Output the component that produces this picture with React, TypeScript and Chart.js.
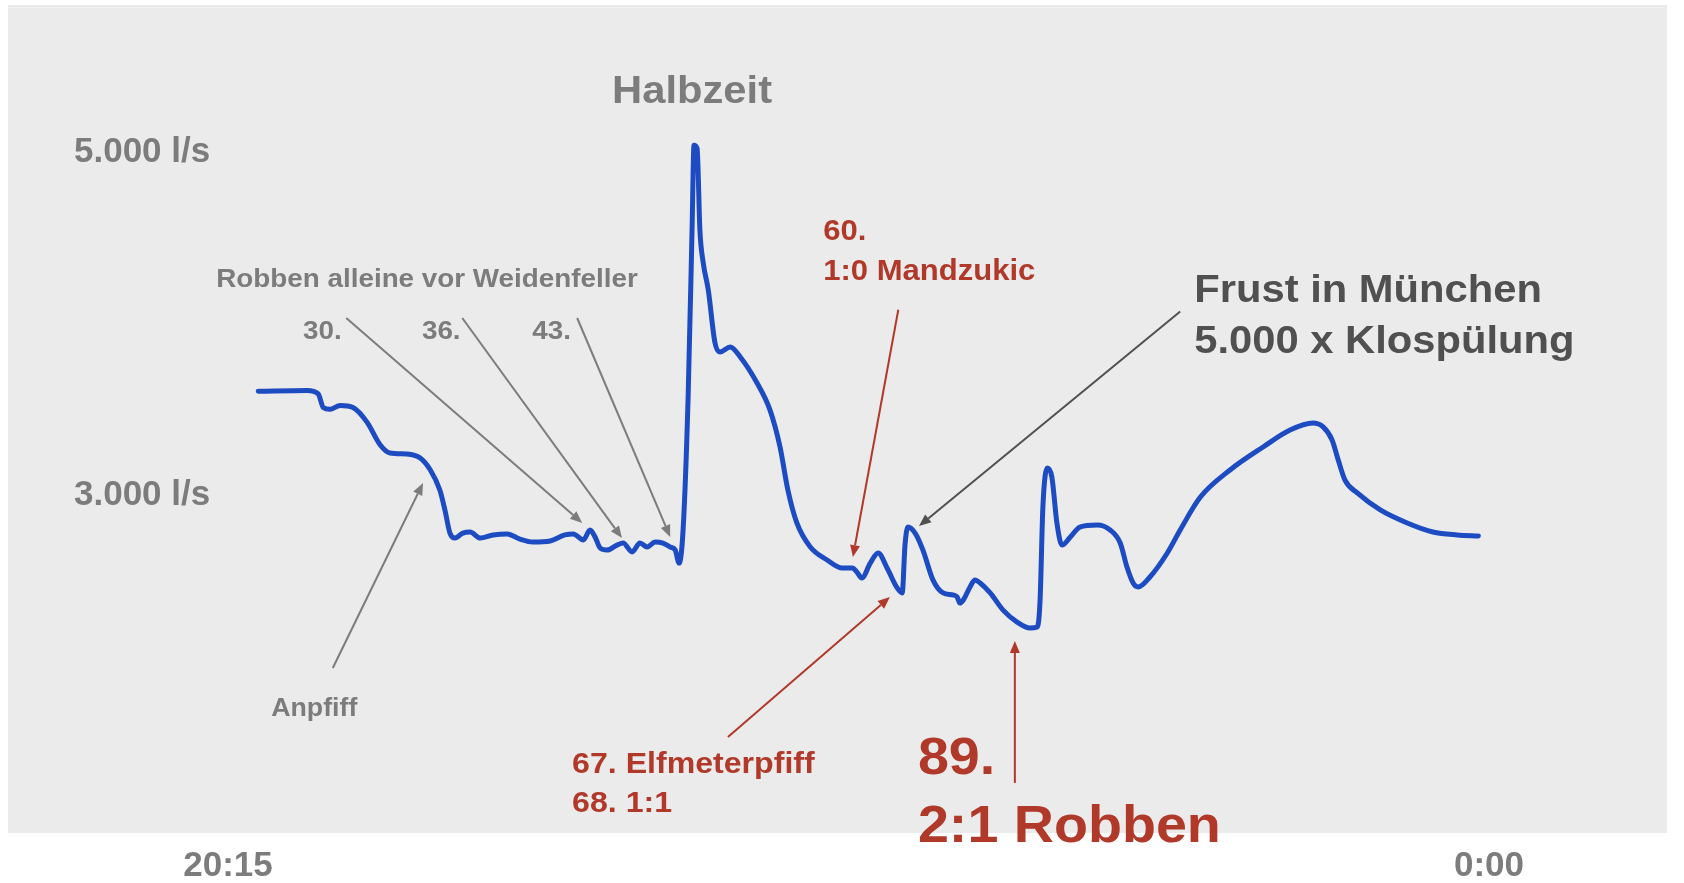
import React, { useEffect, useRef } from "react";
import { Chart, registerables } from "chart.js";

Chart.register(...registerables);

// ---- data: minutes after 20:15 and water flow in l/s ----
const minutes = [
  5.4, 14.1, 16.1, 17.0, 18.2, 20.0, 22.3, 24.8, 27.1, 28.9,
  31.9, 34.3, 36.1, 37.8, 38.7, 39.6, 40.5, 41.9, 43.2, 45.0,
  47.3, 49.8, 52.1, 54.4, 57.5, 60.1, 61.6, 63.4, 64.6, 65.5,
  66.4, 67.6, 69.4, 70.5, 72.1, 73.5, 74.8, 76.2, 77.6, 78.9,
  79.8, 80.5, 81.2, 82.1, 82.8, 83.15, 83.7, 84.2, 84.8, 85.7,
  86.9, 87.8, 89.6, 91.4, 94.4, 96.7, 98.5, 99.9, 101.5, 103.9,
  106.9, 109.6, 111.4, 112.2, 113.1, 114.6, 116.0, 117.6, 119.4, 120.3,
  120.8, 121.3, 122.6, 124.0, 125.8, 127.6, 129.4, 130.1, 130.6, 131.2,
  132.4, 133.3, 134.2, 136.0, 138.3, 140.8, 143.1, 144.4, 144.9, 145.4,
  146.2, 147.0, 147.9, 148.8, 150.3, 152.0, 155.1, 157.4, 159.2, 160.4,
  161.5, 162.4, 164.5, 167.6, 169.9, 173.5, 178.8, 184.7, 189.5, 193.6,
  195.4, 197.0, 198.1, 199.3, 201.5, 205.6, 210.4, 215.0, 219.3, 223.1,
];

const flow = [
  3605, 3610, 3590, 3510, 3500, 3522, 3510, 3425, 3295, 3245,
  3239, 3216, 3146, 3029, 2913, 2778, 2749, 2778, 2784, 2749,
  2767, 2773, 2743, 2726, 2732, 2767, 2773, 2738, 2796, 2755,
  2691, 2679, 2708, 2720, 2668, 2720, 2697, 2726, 2720, 2697,
  2679, 2603, 2796, 3571, 4545, 5040, 5022, 4545, 4353, 4195,
  3886, 3834, 3863, 3805, 3653, 3496, 3280, 3029, 2837, 2697,
  2621, 2574, 2574, 2551, 2516, 2603, 2662, 2574, 2458, 2429,
  2708, 2813, 2778, 2679, 2504, 2429, 2417, 2405, 2370, 2388,
  2464, 2504, 2487, 2429, 2329, 2259, 2224, 2230, 2388, 2930,
  3157, 3105, 2837, 2708, 2755, 2813, 2825, 2796, 2720, 2580,
  2487, 2464, 2522, 2662, 2796, 2988, 3146, 3280, 3379, 3420,
  3397, 3321, 3204, 3087, 3012, 2913, 2837, 2784, 2767, 2761,
];

const xTickValues = [0, 225];
const xTickLabels = ["20:15", "0:00"];
const yTickValues = [3000, 5000];
const yTickLabels = ["3.000 l/s", "5.000 l/s"];

// ---- styles ----
const GRAY = "#7c7c7c";
const DARK = "#505050";
const RED = "#b0392a";
const LINE_BLUE = "#1d4bc2";
const PANEL = "#ebebeb";
const FONT = '"Liberation Sans", Arial, Helvetica, sans-serif';
const STRETCH = 1.07;

// ---- annotations (positioned in data units: minutes, l/s) ----
const noteTexts = [
  { text: "Halbzeit", x: 82.8, y: 5285, size: 39, color: GRAY, align: "center" },
  { text: "Robben alleine vor Weidenfeller", x: -2.1, y: 4213, size: 26, color: GRAY, align: "left" },
  { text: "30.", x: 13.4, y: 3910, size: 26, color: GRAY, align: "left" },
  { text: "36.", x: 34.6, y: 3910, size: 26, color: GRAY, align: "left" },
  { text: "43.", x: 54.3, y: 3910, size: 26, color: GRAY, align: "left" },
  { text: "Anpfiff", x: 7.7, y: 1711, size: 25, color: GRAY, align: "left" },
  { text: "60.", x: 106.2, y: 4487, size: 29, color: RED, align: "left" },
  { text: "1:0 Mandzukic", x: 106.2, y: 4255, size: 29, color: RED, align: "left" },
  { text: "Frust in München", x: 172.4, y: 4125, size: 39, color: DARK, align: "left" },
  { text: "5.000 x Klospülung", x: 172.4, y: 3828, size: 39, color: DARK, align: "left" },
  { text: "67. Elfmeterpfiff", x: 61.4, y: 1379, size: 30, color: RED, align: "left" },
  { text: "68. 1:1", x: 61.4, y: 1152, size: 30, color: RED, align: "left" },
  { text: "89.", x: 123.1, y: 1373, size: 52, color: RED, align: "left" },
  { text: "2:1 Robben", x: 123.1, y: 977, size: 52, color: RED, align: "left" },
];

const noteArrows = [
  { from: [21.1, 4032], to: [63.2, 2837], color: GRAY },
  { from: [41.8, 4032], to: [70.3, 2749], color: GRAY },
  { from: [62.3, 4032], to: [78.9, 2755], color: GRAY },
  { from: [18.7, 1991], to: [34.8, 3070], color: GRAY },
  { from: [119.6, 4080], to: [111.5, 2638], color: RED },
  { from: [169.9, 4070], to: [123.3, 2819], color: DARK },
  { from: [89.2, 1589], to: [118.1, 2405], color: RED },
  { from: [140.4, 1321], to: [140.4, 2149], color: RED },
];

const notesPlugin = {
  id: "notes",
  beforeDraw(chart: any) {
    const { ctx, width, height } = chart;
    ctx.save();
    ctx.fillStyle = "#ffffff";
    ctx.fillRect(0, 0, width, height);
    ctx.fillStyle = PANEL;
    ctx.fillRect(8, 5, 1659, 828);
    ctx.restore();
  },
  afterDraw(chart: any) {
    const { ctx } = chart;
    const xs = chart.scales.x;
    const ys = chart.scales.y;
    ctx.save();
    for (const a of noteArrows) {
      const x1 = xs.getPixelForValue(a.from[0]);
      const y1 = ys.getPixelForValue(a.from[1]);
      const x2 = xs.getPixelForValue(a.to[0]);
      const y2 = ys.getPixelForValue(a.to[1]);
      const ang = Math.atan2(y2 - y1, x2 - x1);
      const headLen = 12;
      const headW = 5;
      const bx = x2 - headLen * Math.cos(ang);
      const by = y2 - headLen * Math.sin(ang);
      ctx.strokeStyle = a.color;
      ctx.fillStyle = a.color;
      ctx.lineWidth = 2;
      ctx.beginPath();
      ctx.moveTo(x1, y1);
      ctx.lineTo(bx, by);
      ctx.stroke();
      ctx.beginPath();
      ctx.moveTo(x2, y2);
      ctx.lineTo(bx + headW * Math.sin(ang), by - headW * Math.cos(ang));
      ctx.lineTo(bx - headW * Math.sin(ang), by + headW * Math.cos(ang));
      ctx.closePath();
      ctx.fill();
    }
    for (const t of noteTexts) {
      const px = xs.getPixelForValue(t.x);
      const py = ys.getPixelForValue(t.y);
      ctx.save();
      ctx.translate(px, py);
      ctx.scale(STRETCH, 1);
      ctx.font = `bold ${t.size}px ${FONT}`;
      ctx.fillStyle = t.color;
      ctx.textAlign = t.align;
      ctx.textBaseline = "alphabetic";
      ctx.fillText(t.text, 0, 0);
      ctx.restore();
    }
    ctx.restore();
  },
};

export default function App() {
  const canvasRef = useRef<HTMLCanvasElement | null>(null);

  useEffect(() => {
    if (!canvasRef.current) return;
    const points = minutes.map((m, i) => ({ x: m, y: flow[i] }));
    const chart = new Chart(canvasRef.current, {
      type: "line",
      data: {
        datasets: [
          {
            data: points,
            borderColor: LINE_BLUE,
            borderWidth: 5,
            pointRadius: 0,
            fill: false,
            cubicInterpolationMode: "monotone",
            borderCapStyle: "round",
            borderJoinStyle: "round",
          },
        ],
      },
      options: {
        responsive: false,
        animation: false,
        devicePixelRatio: 1,
        layout: {
          autoPadding: false,
          padding: { top: 14.8, left: 74, right: 195, bottom: 0 },
        },
        plugins: {
          legend: { display: false },
          tooltip: { enabled: false },
        },
        scales: {
          x: {
            type: "linear",
            min: 0,
            max: 225,
            grid: { display: false, drawTicks: false },
            border: { display: false },
            afterBuildTicks: (scale: any) => {
              scale.ticks = xTickValues.map((v) => ({ value: v }));
            },
            afterFit: (scale: any) => {
              scale.height = 45;
              scale.paddingLeft = 0;
              scale.paddingRight = 0;
              scale.paddingTop = 0;
              scale.paddingBottom = 0;
            },
            ticks: {
              autoSkip: false,
              maxRotation: 0,
              padding: 7,
              color: GRAY,
              font: { family: FONT, size: 35, weight: "bold" },
              callback: (v: any) => {
                const i = xTickValues.indexOf(Number(v));
                return i >= 0 ? xTickLabels[i] : "";
              },
            },
          },
          y: {
            type: "linear",
            min: 1000,
            max: 5800,
            grid: { display: false, drawTicks: false },
            border: { display: false },
            afterBuildTicks: (scale: any) => {
              scale.ticks = yTickValues.map((v) => ({ value: v }));
            },
            afterFit: (scale: any) => {
              scale.width = 154;
              scale.paddingLeft = 0;
              scale.paddingRight = 0;
              scale.paddingTop = 0;
              scale.paddingBottom = 0;
            },
            ticks: {
              autoSkip: false,
              crossAlign: "far",
              color: GRAY,
              font: { family: FONT, size: 35, weight: "bold" },
              callback: (v: any) => {
                const i = yTickValues.indexOf(Number(v));
                return i >= 0 ? yTickLabels[i] : "";
              },
            },
          },
        },
      },
      plugins: [notesPlugin],
    } as any);
    return () => chart.destroy();
  }, []);

  return (
    <div style={{ position: "absolute", left: 0, top: 0, width: 1684, height: 883 }}>
      <canvas ref={canvasRef} width={1684} height={883} style={{ display: "block", width: 1684, height: 883 }} />
    </div>
  );
}
